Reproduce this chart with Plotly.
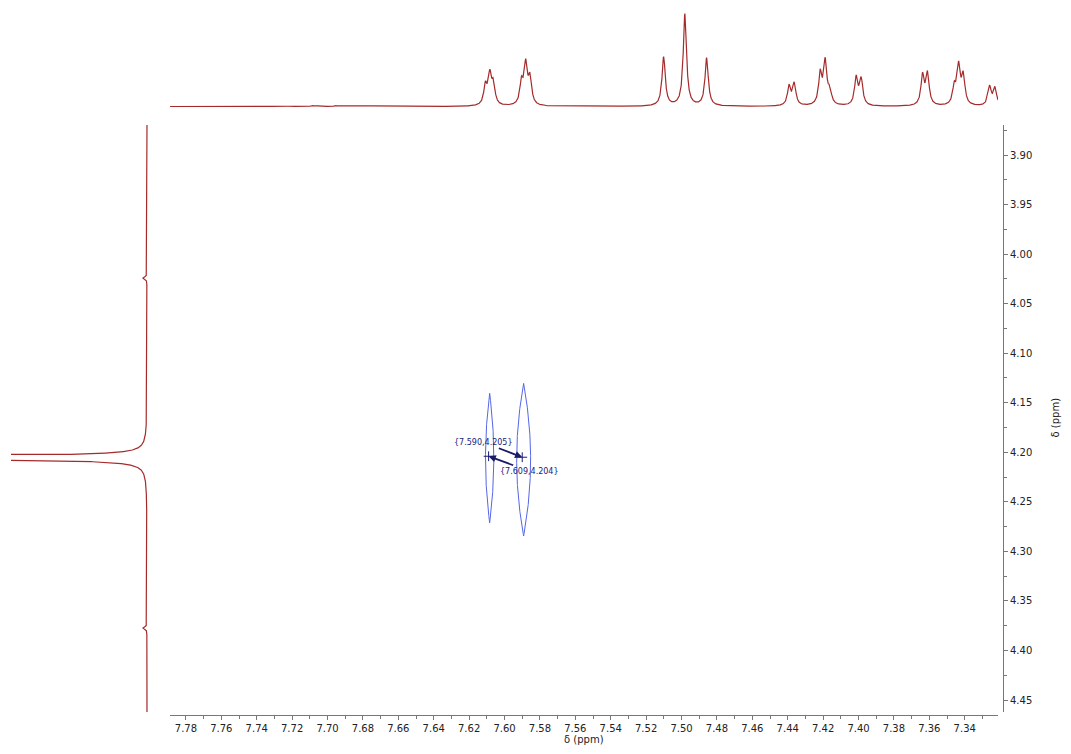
import numpy as np
import plotly.graph_objects as go

# ---------------- data ----------------
# 1D proton projection (top): peak positions (ppm) and intensities (arb.)
top_ppm = [7.7207, 7.7083, 7.6953,
           7.6108, 7.6083, 7.6063,
           7.5904, 7.5880, 7.5856,
           7.5101, 7.4981, 7.4858,
           7.4392, 7.4363,
           7.4216, 7.4188, 7.4162,
           7.4013, 7.3985,
           7.3638, 7.3610,
           7.3459, 7.3434, 7.3408,
           7.3259, 7.3229]
top_int = [0.8, 0.8, 0.8,
           19.4, 29.1, 20.1,
           22.0, 39.3, 25.9,
           49.0, 92.0, 48.0,
           19.1, 21.8,
           30.9, 42.6, 13.5,
           27.6, 25.7,
           29.6, 31.4,
           17.5, 38.0, 28.7,
           18.9, 17.4]
top_hwhm = 0.0011

# 1D projection (left, vertical)
left_ppm = [4.0241, 4.2055, 4.3773]
left_int = [4.0, 3600.0, 4.0]
left_hwhm = [0.0012, 0.0005, 0.0012]

# 2D cross peaks (contour centres and half-extents, ppm)
ell_cx = [7.6084, 7.5892]
ell_cy = [4.2058, 4.2075]
ell_ax = [0.00237, 0.00395]
ell_ay = [0.0653, 0.0770]

# peak picks
pick_x = [7.590, 7.609]
pick_y = [4.205, 4.204]
pick_text = ["{7.590,4.205}", "{7.609,4.204}"]
pick_ax = [-39, 41]
pick_ay = [-15, 15]

x_range = [7.7890, 7.3212]
y_range = [4.4621, 3.8697]

W, H = 1071, 754
FONT = "DejaVu Sans"
SPEC_COLOR = "#a52a2a"
AXIS_COLOR = "#777777"
TEXT_COLOR = "#222222"


def lorentz(grid, centers, heights, widths):
    out = np.zeros_like(grid)
    widths = np.broadcast_to(np.asarray(widths, dtype=float), (len(centers),))
    for c, h, w in zip(centers, heights, widths):
        out += h / (1.0 + ((grid - c) / w) ** 2)
    return out


fig = go.Figure()

# top spectrum
gx = np.arange(x_range[1], x_range[0], 0.00005)
fig.add_trace(go.Scatter(x=gx, y=lorentz(gx, top_ppm, top_int, top_hwhm),
                         mode="lines", line=dict(color=SPEC_COLOR, width=1.2),
                         xaxis="x", yaxis="y2", hoverinfo="skip"))

# left spectrum
gy = np.arange(y_range[1], y_range[0], 0.00003)
fig.add_trace(go.Scatter(x=lorentz(gy, left_ppm, left_int, left_hwhm), y=gy,
                         mode="lines", line=dict(color=SPEC_COLOR, width=1.2),
                         xaxis="x3", yaxis="y", hoverinfo="skip"))

# cross-peak contours (lens shaped)
t = np.linspace(-1, 1, 200)
for cx, cy, a, b in zip(ell_cx, ell_cy, ell_ax, ell_ay):
    w = a * (1 - t ** 2)
    xs = np.concatenate([cx + w, (cx - w)[::-1]])
    ys = np.concatenate([cy + b * t, (cy + b * t)[::-1]])
    fig.add_trace(go.Scatter(x=xs, y=ys, mode="lines",
                             line=dict(color="#5566e6", width=1),
                             xaxis="x", yaxis="y", hoverinfo="skip"))

# peak pick markers
fig.add_trace(go.Scatter(x=pick_x, y=pick_y, mode="markers",
                         marker=dict(symbol="cross-thin", size=7,
                                     line=dict(color="#1a1a7a", width=1)),
                         xaxis="x", yaxis="y", hoverinfo="skip"))

for px, py, txt, ax, ay in zip(pick_x, pick_y, pick_text, pick_ax, pick_ay):
    fig.add_annotation(x=px, y=py, xref="x", yref="y", text=txt,
                       ax=ax, ay=ay, showarrow=True, arrowhead=2,
                       arrowsize=0.8, arrowwidth=1.8, arrowcolor="#1a1a6a",
                       standoff=0, startstandoff=0,
                       font=dict(family=FONT, size=8, color="#1a1a7a"))

# axis titles
fig.add_annotation(x=584 / W, y=1 - 747 / H, xref="paper", yref="paper",
                   text="δ (ppm)", showarrow=False,
                   font=dict(family=FONT, size=10, color=TEXT_COLOR))
fig.add_annotation(x=1062 / W, y=1 - 418 / H, xref="paper", yref="paper",
                   text="δ (ppm)", showarrow=False, textangle=-90,
                   font=dict(family=FONT, size=10, color=TEXT_COLOR))

fig.update_layout(
    width=W, height=H,
    margin=dict(l=0, r=0, t=0, b=0),
    paper_bgcolor="white", plot_bgcolor="white",
    showlegend=False,
    font=dict(family=FONT, size=10, color=TEXT_COLOR),
    xaxis=dict(domain=[170 / W, 998 / W], range=x_range,
               anchor="free", position=1 - 715 / H,
               showline=True, linecolor=AXIS_COLOR, linewidth=1,
               ticks="outside", ticklen=4, tickcolor=AXIS_COLOR,
               tick0=7.78, dtick=0.02, tickformat=".2f",
               minor=dict(ticks="outside", ticklen=3, tickcolor=AXIS_COLOR,
                          dtick=0.01, tick0=7.78, showgrid=False),
               showgrid=False, zeroline=False,
               tickfont=dict(family=FONT, size=10, color=TEXT_COLOR)),
    yaxis=dict(domain=[1 - 712 / H, 1 - 125 / H], range=y_range,
               anchor="free", position=1003 / W, side="right",
               showline=True, linecolor=AXIS_COLOR, linewidth=1,
               ticks="outside", ticklen=4, tickcolor=AXIS_COLOR,
               tick0=3.90, dtick=0.05, tickformat=".2f",
               minor=dict(ticks="outside", ticklen=3, tickcolor=AXIS_COLOR,
                          dtick=0.025, tick0=3.90, showgrid=False),
               showgrid=False, zeroline=False,
               tickfont=dict(family=FONT, size=10, color=TEXT_COLOR)),
    yaxis2=dict(domain=[1 - 110 / H, 1], range=[-3.5, 106.5],
                anchor="x", visible=False, showgrid=False, zeroline=False),
    xaxis3=dict(domain=[11 / W, 150 / W], range=[136, -3],
                anchor="y", visible=False, showgrid=False, zeroline=False),
)

fig.write_html("out.html")
